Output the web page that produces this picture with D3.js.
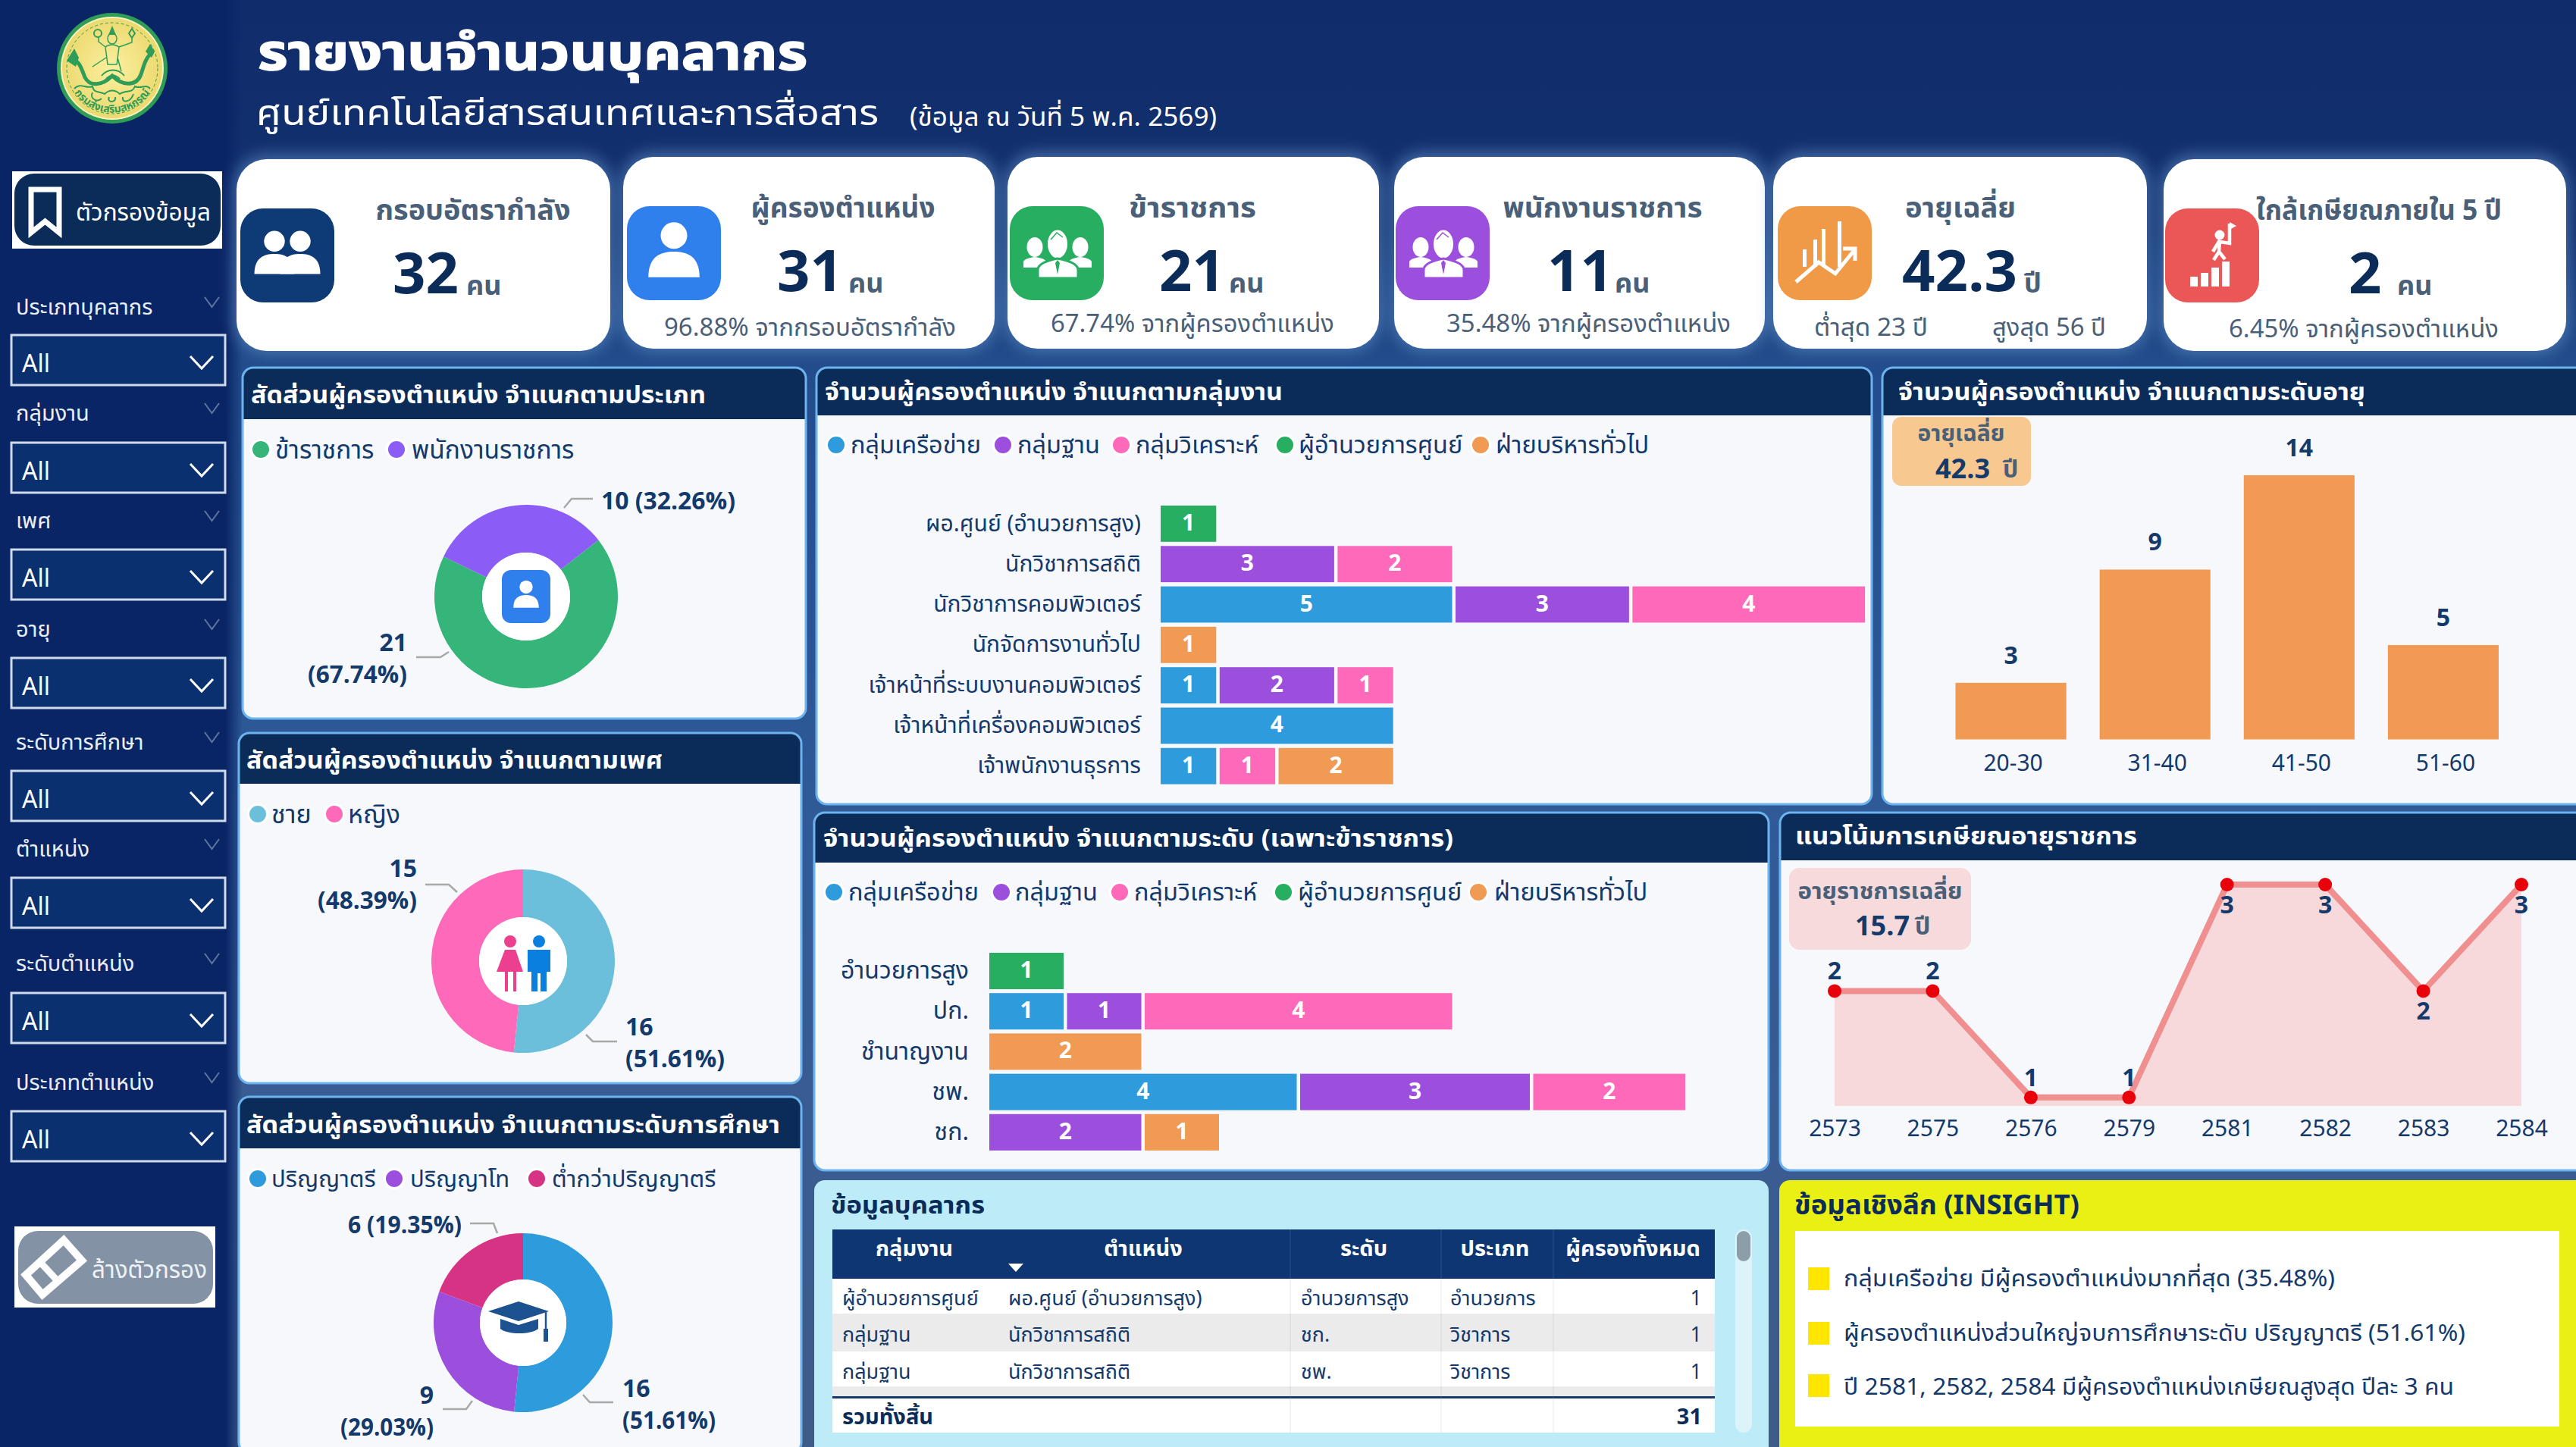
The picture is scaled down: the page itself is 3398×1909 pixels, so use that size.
<!DOCTYPE html>
<html lang="th">
<head>
<meta charset="utf-8">
<title>รายงานจำนวนบุคลากร</title>
<script src="https://cdn.jsdelivr.net/npm/d3@7/dist/d3.min.js"></script>
<style>
  html, body { margin: 0; padding: 0; background: #12306f; }
  svg { display: block; }
  text { font-family: "Noto Sans Thai", "Noto Sans", "Open Sans", "DejaVu Sans", sans-serif; }
</style>
</head>
<body>
<svg id="board" width="3398" height="1909" viewBox="0 0 3398 1909"></svg>
<script>
// ---------- data ----------
const filterNames = ["ประเภทบุคลากร", "กลุ่มงาน", "เพศ", "อายุ", "ระดับการศึกษา", "ตำแหน่ง", "ระดับตำแหน่ง", "ประเภทตำแหน่ง"];

const kpiTitles = ["กรอบอัตรากำลัง", "ผู้ครองตำแหน่ง", "ข้าราชการ", "พนักงานราชการ", "อายุเฉลี่ย", "ใกล้เกษียณภายใน 5 ปี"];
const kpiValues = ["32", "31", "21", "11", "42.3", "2"];
const kpiUnits = ["คน", "คน", "คน", "คน", "ปี", "คน"];
const kpiNotes = ["", "96.88% จากกรอบอัตรากำลัง", "67.74% จากผู้ครองตำแหน่ง", "35.48% จากผู้ครองตำแหน่ง", "", "6.45% จากผู้ครองตำแหน่ง"];

const typeLabels = ["ข้าราชการ", "พนักงานราชการ"];
const typeValues = [21, 10];
const genderLabels = ["ชาย", "หญิง"];
const genderValues = [16, 15];
const educationLabels = ["ปริญญาตรี", "ปริญญาโท", "ต่ำกว่าปริญญาตรี"];
const educationValues = [16, 9, 6];

const workGroups = ["กลุ่มเครือข่าย", "กลุ่มฐาน", "กลุ่มวิเคราะห์", "ผู้อำนวยการศูนย์", "ฝ่ายบริหารทั่วไป"];

const positionNames = ["ผอ.ศูนย์ (อำนวยการสูง)", "นักวิชาการสถิติ", "นักวิชาการคอมพิวเตอร์", "นักจัดการงานทั่วไป", "เจ้าหน้าที่ระบบงานคอมพิวเตอร์", "เจ้าหน้าที่เครื่องคอมพิวเตอร์", "เจ้าพนักงานธุรการ"];
const positionNetwork = [0, 0, 5, 0, 1, 4, 1];
const positionBase = [0, 3, 3, 0, 2, 0, 0];
const positionAnalysis = [0, 2, 4, 0, 1, 0, 1];
const positionDirector = [1, 0, 0, 0, 0, 0, 0];
const positionAdmin = [0, 0, 0, 1, 0, 0, 2];

const levelNames = ["อำนวยการสูง", "ปก.", "ชำนาญงาน", "ชพ.", "ชก."];
const levelNetwork = [0, 1, 0, 4, 0];
const levelBase = [0, 1, 0, 3, 2];
const levelAnalysis = [0, 4, 0, 2, 0];
const levelDirector = [1, 0, 0, 0, 0];
const levelAdmin = [0, 0, 2, 0, 1];

const ageBands = ["20-30", "31-40", "41-50", "51-60"];
const ageCounts = [3, 9, 14, 5];

const retireYears = ["2573", "2575", "2576", "2579", "2581", "2582", "2583", "2584"];
const retireCounts = [2, 2, 1, 1, 3, 3, 2, 3];

const tableHead = ["กลุ่มงาน", "ตำแหน่ง", "ระดับ", "ประเภท", "ผู้ครองทั้งหมด"];
const tableRows = [
  ["ผู้อำนวยการศูนย์", "ผอ.ศูนย์ (อำนวยการสูง)", "อำนวยการสูง", "อำนวยการ", "1"],
  ["กลุ่มฐาน", "นักวิชาการสถิติ", "ชก.", "วิชาการ", "1"],
  ["กลุ่มฐาน", "นักวิชาการสถิติ", "ชพ.", "วิชาการ", "1"]
];
const tableTotal = ["รวมทั้งสิ้น", "31"];

const insights = [
  "กลุ่มเครือข่าย มีผู้ครองตำแหน่งมากที่สุด (35.48%)",
  "ผู้ครองตำแหน่งส่วนใหญ่จบการศึกษาระดับ ปริญญาตรี (51.61%)",
  "ปี 2581, 2582, 2584 มีผู้ครองตำแหน่งเกษียณสูงสุด ปีละ 3 คน"
];

// ---------- palette ----------
const NAVY = "#0b2c59", INK = "#14396b", SLATE = "#4a6078", PANEL = "#f6f8fb";
const groupColors = ["#2e9bdc", "#9b4fdc", "#ff69b9", "#27ae60", "#f09a54"];

const svg = d3.select("#board");
const defs = svg.append("defs");

function linear(id, stops, horizontal) {
  const g = defs.append("linearGradient").attr("id", id).attr("x1", 0).attr("y1", 0)
    .attr("x2", horizontal ? 1 : 0).attr("y2", horizontal ? 0 : 1);
  stops.forEach(([o, c, a]) => g.append("stop").attr("offset", o).attr("stop-color", c).attr("stop-opacity", a === undefined ? 1 : a));
}
linear("pageBg", [[0, "#112c6b"], [0.16, "#12316f"], [0.25, "#224c8c"], [0.55, "#2f5a98"], [0.8, "#3a5c92"], [1, "#3f5c88"]]);
linear("sideBg", [[0, "#0a2566"], [0.93, "#0a2566"], [1, "#0a2566", 0]], true);
defs.append("filter").attr("id", "glow").attr("x", "-10%").attr("y", "-10%").attr("width", "120%").attr("height", "120%")
  .append("feGaussianBlur").attr("stdDeviation", 10);
const seal = defs.append("radialGradient").attr("id", "seal");
seal.append("stop").attr("offset", 0).attr("stop-color", "#fbf0a0");
seal.append("stop").attr("offset", 1).attr("stop-color", "#ecd96f");
defs.append("path").attr("id", "sealArc").attr("d", "M-58,14A60,60 0 0 0 58,14");

// ---------- text helper ----------
function label(parent, x, y, str, size, fill, opt = {}) {
  const t = parent.append("text").attr("x", x).attr("y", y).attr("dominant-baseline", "central")
    .attr("font-size", size).attr("fill", fill).attr("font-weight", opt.weight || 400)
    .attr("text-anchor", opt.anchor || "start").text(str);
  if (opt.width) t.attr("textLength", opt.width).attr("lengthAdjust", "spacingAndGlyphs");
  if (opt.stroke) t.attr("stroke", fill).attr("stroke-width", opt.stroke);
  return t;
}

// ---------- page background and sidebar ----------
svg.append("rect").attr("width", 3398).attr("height", 1909).attr("fill", "url(#pageBg)");
svg.append("rect").attr("width", 320).attr("height", 1909).attr("fill", "url(#sideBg)");

// ---------- seal ----------
const logo = svg.append("g").attr("transform", "translate(148,90)");
const GREEN = "#2f9d57";
logo.append("circle").attr("r", 73).attr("fill", GREEN);
logo.append("circle").attr("r", 68).attr("fill", "#f7f3c0");
logo.append("circle").attr("r", 66).attr("fill", "url(#seal)");
logo.append("circle").attr("r", 60).attr("fill", "none").attr("stroke", GREEN).attr("stroke-width", 1).attr("stroke-dasharray", "4 3");
// deity with raised arms
logo.append("path").attr("fill", GREEN).attr("d", "M0,-56L5,-44H-5Z");
logo.append("ellipse").attr("cx", 0).attr("cy", -39).attr("rx", 6).attr("ry", 7).attr("fill", "none").attr("stroke", GREEN).attr("stroke-width", 1.5);
logo.append("path").attr("fill", "none").attr("stroke", GREEN).attr("stroke-width", 1.5)
  .attr("d", "M-9,-28C-4,-32 4,-32 9,-28L6,-5H-6ZM-9,-28L-18,-35V-42M9,-28L26,-34V-42M-8,-14L-26,-2M7,-14L12,4");
logo.append("circle").attr("cx", -19).attr("cy", -46).attr("r", 5).attr("fill", "none").attr("stroke", GREEN).attr("stroke-width", 2);
logo.append("path").attr("d", "M26,-52L30,-46L26,-40L22,-46Z").attr("fill", "none").attr("stroke", GREEN).attr("stroke-width", 2);
// serpents on either side
logo.append("path").attr("fill", "none").attr("stroke", GREEN).attr("stroke-width", 5).attr("stroke-linecap", "round")
  .attr("d", "M-52,-10C-44,-12 -40,2 -36,12C-30,24 -14,24 0,10C14,24 32,24 38,8C42,-4 44,-14 52,-20");
logo.append("path").attr("fill", GREEN).attr("d", "M-50,-26L-44,-14L-48,-2L-60,-10ZM50,-32L56,-22L52,-14L44,-22Z");
logo.append("path").attr("fill", "none").attr("stroke", GREEN).attr("stroke-width", 2)
  .attr("d", "M-14,10C-6,0 8,0 16,10M-8,14C-2,8 4,8 10,14");
// clouds
logo.append("path").attr("fill", "none").attr("stroke", GREEN).attr("stroke-width", 2)
  .attr("d", "M-50,27C-42,18 -34,28 -26,24C-24,34 -16,30 -10,34C-4,28 4,28 10,34C18,28 26,34 30,24C38,28 44,20 50,27M-26,32C-30,40 -20,46 -14,40M-4,38C-8,46 6,46 4,38M14,38C12,46 24,46 28,34");
logo.append("text").attr("font-size", 14).attr("font-weight", 700).attr("fill", GREEN).attr("text-anchor", "middle")
  .append("textPath").attr("href", "#sealArc").attr("startOffset", "50%").text("กรมส่งเสริมสหกรณ์");

// ---------- page title ----------
label(svg, 340, 72, "รายงานจำนวนบุคลากร", 66, "#ffffff", { weight: 700, width: 725, stroke: 1.6 });
label(svg, 338, 151, "ศูนย์เทคโนโลยีสารสนเทศและการสื่อสาร", 46, "#ffffff", { width: 821 });
label(svg, 1200, 155, "(ข้อมูล ณ วันที่ 5 พ.ค. 2569)", 34, "#ffffff", { width: 405 });

// ---------- sidebar controls ----------
const bm = svg.append("g");
bm.append("rect").attr("x", 16).attr("y", 226).attr("width", 277).attr("height", 102).attr("fill", "#ffffff");
bm.append("rect").attr("x", 19).attr("y", 229).attr("width", 272).attr("height", 95).attr("rx", 26).attr("fill", NAVY);
bm.append("path").attr("d", "M41,250H78V307L59.5,292L41,307Z").attr("fill", "none").attr("stroke", "#ffffff").attr("stroke-width", 7);
label(bm, 100, 281, "ตัวกรองข้อมูล", 32, "#ffffff", { width: 178 });

const filterLabelY = [406, 546, 688, 831, 980, 1121, 1272, 1429];
const filterBoxY = [442, 584, 725, 868, 1017, 1158, 1310, 1466];
filterNames.forEach((name, i) => {
  const g = svg.append("g");
  label(g, 21, filterLabelY[i], name, 29, "#e8eef8");
  g.append("path").attr("d", `M270,${filterLabelY[i] - 14}l9.5,13l9.5,-13`).attr("fill", "none").attr("stroke", "#5d759f").attr("stroke-width", 2);
  g.append("rect").attr("x", 15).attr("y", filterBoxY[i]).attr("width", 282).attr("height", 66)
    .attr("fill", "#0b3070").attr("stroke", "#cfdbea").attr("stroke-width", 3);
  label(g, 29, filterBoxY[i] + 39, "All", 32, "#ffffff");
  g.append("path").attr("d", `M251,${filterBoxY[i] + 28}l15,16l15,-16`).attr("fill", "none").attr("stroke", "#ffffff").attr("stroke-width", 3);
});

const clear = svg.append("g");
clear.append("rect").attr("x", 19).attr("y", 1618).attr("width", 265).attr("height", 107).attr("fill", "#ffffff");
clear.append("rect").attr("x", 24).attr("y", 1624).attr("width", 257).attr("height", 96).attr("rx", 26).attr("fill", "#8492a6");
clear.append("path").attr("d", "M84,1636L108,1663L56,1708L34,1682Z").attr("fill", "none").attr("stroke", "#ffffff").attr("stroke-width", 10);
clear.append("path").attr("d", "M52,1664L76,1690").attr("stroke", "#ffffff").attr("stroke-width", 9);
label(clear, 121, 1676, "ล้างตัวกรอง", 32, "#eef2f7", { width: 152 });

// ---------- KPI cards ----------
const cardX = [312, 822, 1329, 1839, 2339, 2854];
const cardW = [493, 490, 490, 489, 493, 531];
const cardY = [210, 207, 207, 207, 207, 210];
const iconX = [317, 827, 1332, 1841, 2345, 2856];
const iconFill = ["#0e3a75", "#2f80ed", "#27ae60", "#9b4fdc", "#f09a47", "#eb5757"];
const titleCx = [624, 1112, 1573, 2114, 2586, 3138];
const titleW = [257, 243, 168, 263, 146, 324];
const valueX = [518, 1025, 1529, 2041, 2509, 3098];
const unitX = [615, 1119, 1621, 2130, 2670, 3162];
const noteX = [0, 876, 1386, 1908, 0, 2940];
const noteW = [0, 385, 374, 375, 0, 356];
const noteY = [0, 433, 428, 428, 0, 435];

function person(g, cx, cy, s, fill) {
  g.append("circle").attr("cx", cx).attr("cy", cy - 17 * s).attr("r", 14 * s).attr("fill", fill);
  g.append("path").attr("fill", fill)
    .attr("d", `M${cx - 27 * s},${cy + 27 * s}C${cx - 27 * s},${cy + 5 * s} ${cx - 14 * s},${cy} ${cx},${cy}C${cx + 14 * s},${cy} ${cx + 27 * s},${cy + 5 * s} ${cx + 27 * s},${cy + 27 * s}Z`);
}
function trio(g, c, y, fill) {
  [c - 29, c + 31].forEach(cx => {
    g.append("ellipse").attr("cx", cx).attr("cy", y - 8).attr("rx", 10.5).attr("ry", 13).attr("fill", "#ffffff");
    g.append("path").attr("fill", "#ffffff")
      .attr("d", `M${cx - 15},${y + 19}V${y + 12}Q${cx - 15},${y + 7} ${cx},${y + 5}Q${cx + 15},${y + 7} ${cx + 15},${y + 12}V${y + 19}Z`);
  });
  g.append("ellipse").attr("cx", c + 1).attr("cy", y - 12).attr("rx", 14.5).attr("ry", 20).attr("fill", "#ffffff").attr("stroke", fill).attr("stroke-width", 3);
  g.append("path").attr("fill", "#ffffff").attr("stroke", fill).attr("stroke-width", 3)
    .attr("d", `M${c - 25},${y + 33}V${y + 22}Q${c - 25},${y + 12} ${c + 1},${y + 7}Q${c + 28},${y + 12} ${c + 28},${y + 22}V${y + 33}Z`);
  g.append("path").attr("fill", fill).attr("d", `M${c + 1},${y + 9}l-3,4l3,15l3,-15Z`);
  g.append("path").attr("fill", "none").attr("stroke", fill).attr("stroke-width", 1.5).attr("d", `M${c - 8},${y - 18}l8,-9l8,6`);
}
const iconDrawers = [
  (g, c, y) => {
    person(g, c + 17, y - 2, 0.98, "#ffffff");
    g.append("ellipse").attr("cx", c - 17).attr("cy", y - 17).attr("rx", 17).attr("ry", 17).attr("fill", iconFill[0]);
    person(g, c - 17, y - 2, 0.98, "#ffffff");
  },
  (g, c, y) => person(g, c, y - 2, 1.25, "#ffffff"),
  (g, c, y) => trio(g, c, y, iconFill[2]),
  (g, c, y) => trio(g, c, y, iconFill[3]),
  (g, c, y) => {
    [[-29, -5], [-15, -18], [-4, -32], [17, -42]].forEach(([dx, top]) =>
      g.append("rect").attr("x", c + dx).attr("y", y + top).attr("width", 5).attr("height", 18 - top).attr("fill", "#ffffff"));
    g.append("path").attr("d", `M${c - 38},${y + 38}L${c - 8},${y + 12}L${c + 14},${y + 27}L${c + 39},${y - 4}M${c + 24},${y - 6}H${c + 40}V${y + 10}`)
      .attr("fill", "none").attr("stroke", "#ffffff").attr("stroke-width", 5);
  },
  (g, c, y) => {
    [[-29, 13], [-15, 18], [-1, 25], [13, 33]].forEach(([dx, h]) =>
      g.append("rect").attr("x", c + dx).attr("y", y + 41 - h).attr("width", 10).attr("height", h).attr("fill", "#ffffff"));
    g.append("circle").attr("cx", c + 10).attr("cy", y - 27).attr("r", 6.5).attr("fill", "#ffffff");
    g.append("path").attr("d", `M${c + 1},${y - 5}L${c + 10},${y - 20}L${c + 9},${y - 5}L${c + 2},${y + 6}M${c + 9},${y - 5}L${c + 17},${y + 5}M${c + 10},${y - 18}L${c + 23},${y - 16}V${y - 42}`)
      .attr("fill", "none").attr("stroke", "#ffffff").attr("stroke-width", 4.5);
    g.append("path").attr("d", `M${c + 23},${y - 44}l9,5l-9,5Z`).attr("fill", "#ffffff");
  }
];

kpiTitles.forEach((t, i) => {
  const g = svg.append("g");
  g.append("rect").attr("x", cardX[i] - 4).attr("y", cardY[i] - 6).attr("width", cardW[i] + 8).attr("height", 262)
    .attr("rx", 44).attr("fill", "#7fb3e6").attr("opacity", 0.45).attr("filter", "url(#glow)");
  g.append("rect").attr("x", cardX[i]).attr("y", cardY[i]).attr("width", cardW[i]).attr("height", 253).attr("rx", 40).attr("fill", "#ffffff");
  const iy = cardY[i] + 65;
  g.append("rect").attr("x", iconX[i]).attr("y", iy).attr("width", 124).attr("height", 124).attr("rx", 30).attr("fill", iconFill[i]);
  iconDrawers[i](g, iconX[i] + 62, iy + 62);
  label(g, titleCx[i], cardY[i] + 69, t, 37, SLATE, { anchor: "middle", weight: 700, width: titleW[i] });
  const vy = cardY[i] + 153;
  label(g, valueX[i], vy, kpiValues[i], 76, NAVY, { weight: 700 });
  label(g, unitX[i], vy + 15, kpiUnits[i], 36, SLATE, { weight: 700 });
  if (kpiNotes[i]) label(g, noteX[i], noteY[i], kpiNotes[i], 32, SLATE, { width: noteW[i] });
});
const ageNotes = svg.append("g");
label(ageNotes, 2393, 433, "ต่ำสุด 23 ปี", 32, SLATE, { width: 150 });
label(ageNotes, 2628, 433, "สูงสุด 56 ปี", 32, SLATE, { width: 150 });

// ---------- panel shell ----------
function panel(x, y, w, h, headH, title, tx, ty, tw) {
  const g = svg.append("g");
  const clipId = `clip${x}${y}`;
  defs.append("clipPath").attr("id", clipId).append("rect").attr("x", x).attr("y", y).attr("width", w).attr("height", h).attr("rx", 14);
  g.append("rect").attr("x", x).attr("y", y).attr("width", w).attr("height", h).attr("rx", 14).attr("fill", PANEL);
  g.append("rect").attr("x", x).attr("y", y).attr("width", w).attr("height", headH).attr("fill", NAVY).attr("clip-path", `url(#${clipId})`);
  g.append("rect").attr("x", x).attr("y", y).attr("width", w).attr("height", h).attr("rx", 14)
    .attr("fill", "none").attr("stroke", "#6db3ee").attr("stroke-width", 3);
  label(g, tx, ty, title, 32, "#ffffff", { weight: 700, width: tw });
  return g;
}
function legend(g, names, colors, dotX, textX, y, size) {
  names.forEach((n, i) => {
    g.append("circle").attr("cx", dotX[i]).attr("cy", y).attr("r", 14).attr("fill", "#ffffff");
    g.append("circle").attr("cx", dotX[i]).attr("cy", y).attr("r", 11).attr("fill", colors[i]);
    label(g, textX[i], y + 1, n, size, INK);
  });
}

// ---------- donut panels ----------
function donut(g, values, colors, cx, cy, rOuter, rInner, startDeg, notes, pctWidth) {
  const pie = d3.pie().sort(null).startAngle(startDeg * Math.PI / 180).endAngle(startDeg * Math.PI / 180 + 2 * Math.PI);
  const arc = d3.arc().innerRadius(rInner).outerRadius(rOuter);
  const plot = g.append("g").attr("transform", `translate(${cx},${cy})`);
  plot.selectAll("path").data(pie(values)).join("path").attr("d", arc).attr("fill", (d, i) => colors[i]);
  plot.append("circle").attr("r", rInner).attr("fill", "#ffffff");
  const total = d3.sum(values);
  notes.forEach(n => {
    const v = values[n.index];
    const pct = `(${(v / total * 100).toFixed(2)}%)`;
    g.append("polyline").attr("points", n.leader.map(p => p.join(",")).join(" "))
      .attr("fill", "none").attr("stroke", "#a8a8a8").attr("stroke-width", 2.5);
    if (n.oneLine) {
      label(g, n.x, n.y, `${v} ${pct}`, 32, INK, { weight: 700, anchor: n.anchor, width: n.width });
    } else {
      label(g, n.x, n.y, v, 32, INK, { weight: 700, anchor: n.anchor });
      label(g, n.x, n.y + 42, pct, 32, INK, { weight: 700, anchor: n.anchor, width: pctWidth });
    }
  });
  return plot;
}

const typeColors = ["#35b57a", "#8b5cf6"];
const p1 = panel(320, 485, 743, 463, 68, "สัดส่วนผู้ครองตำแหน่ง จำแนกตามประเภท", 331, 522, 600);
legend(p1, typeLabels, typeColors, [344, 523], [363, 543], 593, 33.5);
const typePlot = donut(p1, typeValues, typeColors, 694, 787, 121, 58, 52, [
  { index: 1, x: 793, y: 662, anchor: "start", oneLine: true, width: 177, leader: [[744, 670], [754, 658], [782, 658]] },
  { index: 0, x: 537, y: 849, anchor: "end", leader: [[592, 860], [581, 867], [549, 867]] }
], 131);
typePlot.append("rect").attr("x", -32).attr("y", -35).attr("width", 64).attr("height", 70).attr("rx", 12).attr("fill", "#2f80ed");
person(typePlot, 0, -2, 0.62, "#ffffff");

const genderColors = ["#6bbfdb", "#ff69b9"];
const p2 = panel(315, 967, 742, 462, 67, "สัดส่วนผู้ครองตำแหน่ง จำแนกตามเพศ", 325, 1004, 549);
legend(p2, genderLabels, genderColors, [340, 441], [358, 459], 1074, 34);
const genderPlot = donut(p2, genderValues, genderColors, 690, 1268, 121, 58, 0, [
  { index: 1, x: 550, y: 1147, anchor: "end", leader: [[561, 1167], [592, 1167], [603, 1177]] },
  { index: 0, x: 825, y: 1356, anchor: "start", leader: [[773, 1365], [782, 1374], [814, 1374]] }
], 131);
// woman and man pictograms in the ring
genderPlot.append("circle").attr("cx", -17).attr("cy", -26).attr("r", 8).attr("fill", "#ec3f8f");
genderPlot.append("path").attr("fill", "#ec3f8f").attr("d", "M-24,-15H-10L0,14H-9V40H-13V14H-20V40H-24V14H-35Z");
genderPlot.append("circle").attr("cx", 21).attr("cy", -26).attr("r", 8).attr("fill", "#0a7fe0");
genderPlot.append("path").attr("fill", "#0a7fe0").attr("d", "M6,-15H36V14H31V40H23V16H19V40H11V14H6Z");

const eduColors = ["#2e9bdc", "#9b4fdc", "#d63384"];
const p3 = panel(315, 1447, 742, 470, 68, "สัดส่วนผู้ครองตำแหน่ง จำแนกตามระดับการศึกษา", 325, 1485, 704);
legend(p3, educationLabels, eduColors, [340, 520, 708], [358, 541, 728], 1555, 31);
const eduPlot = donut(p3, educationValues, eduColors, 690, 1745, 118, 57, 0, [
  { index: 2, x: 609, y: 1617, anchor: "end", oneLine: true, width: 150, leader: [[620, 1614], [651, 1614], [656, 1627]] },
  { index: 0, x: 821, y: 1833, anchor: "start", leader: [[769, 1840], [778, 1850], [809, 1850]] },
  { index: 1, x: 572, y: 1842, anchor: "end", leader: [[623, 1848], [615, 1859], [584, 1859]] }
], 123);
// mortarboard in the ring
eduPlot.append("path").attr("fill", "#1c5290").attr("d", "M-6,-28L34,-15L-6,-2L-46,-15Z");
eduPlot.append("path").attr("fill", "#1c5290").attr("d", "M-30,-5L-6,3L20,-5V8C10,16 -20,16 -30,8Z");
eduPlot.append("path").attr("fill", "none").attr("stroke", "#1c5290").attr("stroke-width", 2.5).attr("d", "M30,-14V10");
eduPlot.append("rect").attr("x", 27).attr("y", 8).attr("width", 6).attr("height", 17).attr("fill", "#1c5290");

// ---------- stacked bars ----------
function stackedBars(g, categories, seriesArrays, opt) {
  const rows = categories.map((c, i) => {
    const r = { category: c };
    workGroups.forEach((w, k) => { r[w] = seriesArrays[k][i]; });
    return r;
  });
  const layers = d3.stack().keys(workGroups)(rows);
  const x = d3.scaleLinear().domain([0, opt.maxUnits]).range([opt.x0, opt.x0 + opt.maxUnits * opt.unit]);
  const span = (categories.length - 1) * opt.step + opt.barH;
  const y = d3.scaleBand().domain(categories).range([opt.top, opt.top + span]).paddingInner(1 - opt.barH / opt.step).paddingOuter(0);
  const axis = d3.axisLeft(y).tickSize(0).tickPadding(opt.x0 - opt.labelRight);
  const ax = g.append("g").attr("transform", `translate(${opt.x0},0)`).call(axis).attr("font-family", null);
  ax.select(".domain").remove();
  ax.selectAll("text").attr("font-size", opt.axisFont).attr("fill", INK);
  layers.forEach((layer, k) => {
    const part = layer.filter(d => d[1] > d[0]);
    g.selectAll(null).data(part).join("rect")
      .attr("x", d => x(d[0])).attr("y", d => y(d.data.category))
      .attr("width", d => x(d[1]) - x(d[0]) - opt.gap).attr("height", y.bandwidth())
      .attr("fill", groupColors[k]);
    g.selectAll(null).data(part).join("text")
      .attr("x", d => (x(d[0]) + x(d[1]) - opt.gap) / 2).attr("y", d => y(d.data.category) + y.bandwidth() / 2)
      .attr("dominant-baseline", "central").attr("text-anchor", "middle")
      .attr("font-size", 30).attr("font-weight", 700).attr("fill", "#ffffff")
      .text(d => d[1] - d[0]);
  });
}

const p4 = panel(1077, 485, 1392, 576, 63, "จำนวนผู้ครองตำแหน่ง จำแนกตามกลุ่มงาน", 1088, 518, 604);
legend(p4, workGroups, groupColors, [1103, 1323, 1479, 1695, 1953], [1122, 1342, 1498, 1713, 1973], 587, 32.5);
stackedBars(p4, positionNames, [positionNetwork, positionBase, positionAnalysis, positionDirector, positionAdmin],
  { maxUnits: 12, x0: 1531, unit: 77.8, gap: 4.5, top: 667, step: 53.3, barH: 47.8, labelRight: 1505, axisFont: 30 });

const p5 = panel(1074, 1072, 1259, 472, 66, "จำนวนผู้ครองตำแหน่ง จำแนกตามระดับ (เฉพาะข้าราชการ)", 1086, 1107, 831);
legend(p5, workGroups, groupColors, [1100, 1321, 1477, 1693, 1950], [1119, 1339, 1496, 1712, 1971], 1177, 32.5);
stackedBars(p5, levelNames, [levelNetwork, levelBase, levelAnalysis, levelDirector, levelAdmin],
  { maxUnits: 9, x0: 1305, unit: 102.5, gap: 4.5, top: 1257, step: 53.2, barH: 48, labelRight: 1278, axisFont: 32 });

// ---------- age columns ----------
const p6 = panel(2483, 485, 930, 576, 63, "จำนวนผู้ครองตำแหน่ง จำแนกตามระดับอายุ", 2504, 518, 616);
p6.append("rect").attr("x", 2496).attr("y", 550).attr("width", 183).attr("height", 91).attr("rx", 12).attr("fill", "#f7c88f");
label(p6, 2587, 573, "อายุเฉลี่ย", 30, SLATE, { anchor: "middle", weight: 700 });
label(p6, 2553, 620, "42.3", 36, INK, { weight: 700 });
label(p6, 2642, 620, "ปี", 32, SLATE, { weight: 700 });

const ageX = d3.scaleBand().domain(ageBands).range([2554.5, 3321]).paddingInner(44 / 190).paddingOuter(25 / 190);
const ageY = d3.scaleLinear().domain([0, 14]).range([975.5, 627]);
p6.selectAll(null).data(ageCounts).join("rect")
  .attr("x", (d, i) => ageX(ageBands[i])).attr("y", d => ageY(d))
  .attr("width", ageX.bandwidth()).attr("height", d => ageY(0) - ageY(d)).attr("fill", "#f09a54");
p6.selectAll(null).data(ageCounts).join("text")
  .attr("x", (d, i) => ageX(ageBands[i]) + ageX.bandwidth() / 2).attr("y", d => ageY(d) - 35)
  .attr("dominant-baseline", "central").attr("text-anchor", "middle")
  .attr("font-size", 32).attr("font-weight", 700).attr("fill", INK).text(d => d);
const ageAxis = p6.append("g").attr("transform", "translate(3,975.5)").call(d3.axisBottom(ageX).tickSize(0).tickPadding(20)).attr("font-family", null);
ageAxis.select(".domain").remove();
ageAxis.selectAll("text").attr("font-size", 30).attr("fill", INK);

// ---------- retirement trend ----------
const p7 = panel(2348, 1072, 1065, 472, 63, "แนวโน้มการเกษียณอายุราชการ", 2368, 1104, 451);
p7.append("rect").attr("x", 2360).attr("y", 1145).attr("width", 240).attr("height", 108).attr("rx", 14).attr("fill", "#f7dadb");
label(p7, 2480, 1177, "อายุราชการเฉลี่ย", 30, SLATE, { anchor: "middle", weight: 700, width: 217 });
label(p7, 2447, 1223, "15.7", 36, INK, { weight: 700 });
label(p7, 2526, 1223, "ปี", 32, SLATE, { weight: 700 });

const yearX = d3.scalePoint().domain(retireYears).range([2420, 3326]);
const countY = d3.scaleLinear().domain([0.92, 3]).range([1459, 1167]);
const points = retireYears.map((yr, i) => ({ yr, v: retireCounts[i] }));
p7.append("path").datum(points).attr("fill", "#f7d9dc")
  .attr("d", d3.area().x(d => yearX(d.yr)).y0(countY.range()[0]).y1(d => countY(d.v)));
p7.append("path").datum(points).attr("fill", "none").attr("stroke", "#ef8f8f").attr("stroke-width", 8)
  .attr("d", d3.line().x(d => yearX(d.yr)).y(d => countY(d.v)));
p7.selectAll(null).data(points).join("circle")
  .attr("cx", d => yearX(d.yr)).attr("cy", d => countY(d.v)).attr("r", 9).attr("fill", "#e8000b");
// the count sits below the point at plateaus of 3 and at the 2583 dip, above it elsewhere
p7.selectAll(null).data(points).join("text")
  .attr("x", d => yearX(d.yr)).attr("y", d => countY(d.v) + ((d.v === 3 || d.yr === "2583") ? 28 : -25))
  .attr("dominant-baseline", "central").attr("text-anchor", "middle")
  .attr("font-size", 32).attr("font-weight", 700).attr("fill", INK).text(d => d.v);
const yearAxis = p7.append("g").attr("transform", "translate(0,1459)").call(d3.axisBottom(yearX).tickSize(0).tickPadding(19)).attr("font-family", null);
yearAxis.select(".domain").remove();
yearAxis.selectAll("text").attr("font-size", 30).attr("fill", INK);

// ---------- staff table ----------
const tp = svg.append("g");
tp.append("rect").attr("x", 1074).attr("y", 1557).attr("width", 1259).attr("height", 370).attr("rx", 14).attr("fill", "#bdecf8");
label(tp, 1096, 1591, "ข้อมูลบุคลากร", 32, NAVY, { weight: 700, width: 203 });
const tableX = 1098, tableW = 1164;
const colLines = [1702, 1901, 2049];
const headCx = [1206, 1508, 1799, 1972, 2154];
const cellX = [1111, 1330, 1716, 1913];
const rowTop = [1687, 1733, 1783];
const rowBottom = [1733, 1783, 1829];
const rowTextY = [1713, 1761, 1810];
tp.append("rect").attr("x", tableX).attr("y", 1622).attr("width", tableW).attr("height", 65).attr("fill", "#0d3673");
tableHead.forEach((h, i) => label(tp, headCx[i], 1648, h, 29, "#ffffff", { anchor: "middle", weight: 700 }));
tp.append("path").attr("d", "M1330,1667h20l-10,11Z").attr("fill", "#ffffff");
tableRows.forEach((row, r) => {
  tp.append("rect").attr("x", tableX).attr("y", rowTop[r]).attr("width", tableW).attr("height", rowBottom[r] - rowTop[r])
    .attr("fill", r % 2 ? "#ebebeb" : "#ffffff");
  row.slice(0, 4).forEach((c, i) => label(tp, cellX[i], rowTextY[r], c, 27, INK));
  label(tp, 2245, rowTextY[r], row[4], 27, INK, { anchor: "end" });
});
tp.append("rect").attr("x", tableX).attr("y", 1829).attr("width", tableW).attr("height", 13).attr("fill", "#ebebeb");
tp.append("rect").attr("x", tableX).attr("y", 1842).attr("width", tableW).attr("height", 48).attr("fill", "#ffffff");
tp.append("rect").attr("x", tableX).attr("y", 1842).attr("width", tableW).attr("height", 3).attr("fill", "#14396b");
colLines.forEach(x => tp.append("line").attr("x1", x).attr("x2", x).attr("y1", 1622).attr("y2", 1890).attr("stroke", "#8fa3bd").attr("stroke-opacity", 0.25));
label(tp, 1111, 1870, tableTotal[0], 29, NAVY, { weight: 700 });
label(tp, 2245, 1870, tableTotal[1], 29, NAVY, { weight: 700, anchor: "end" });
tp.append("rect").attr("x", 2289).attr("y", 1622).attr("width", 22).attr("height", 268).attr("rx", 11).attr("fill", "#ddf3fa");
tp.append("rect").attr("x", 2291).attr("y", 1624).attr("width", 18).attr("height", 40).attr("rx", 9).attr("fill", "#8c9ea8");

// ---------- insight box ----------
const ip = svg.append("g");
ip.append("rect").attr("x", 2347).attr("y", 1557).attr("width", 1066).attr("height", 370).attr("rx", 14).attr("fill", "#eaf013");
label(ip, 2367, 1591, "ข้อมูลเชิงลึก (INSIGHT)", 36, NAVY, { weight: 700, width: 376 });
ip.append("rect").attr("x", 2368).attr("y", 1624).attr("width", 1008).attr("height", 258).attr("fill", "#ffffff");
const bulletY = [1672, 1744, 1813];
const insightWidths = [648, 820, 805];
const insightY = [1688, 1760, 1831];
insights.forEach((s, i) => {
  ip.append("rect").attr("x", 2385).attr("y", bulletY[i]).attr("width", 28).attr("height", 30).attr("fill", "#ffe600");
  label(ip, 2432, insightY[i], s, 30, INK, { width: insightWidths[i] });
});
</script>
</body>
</html>
